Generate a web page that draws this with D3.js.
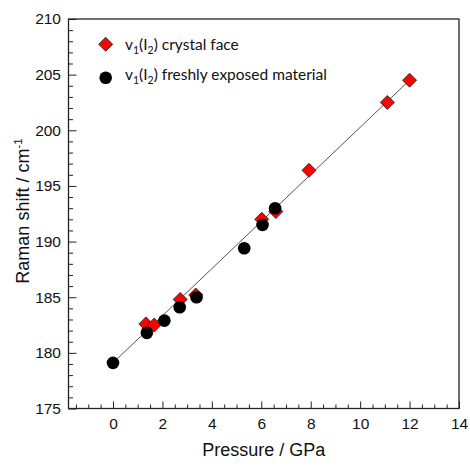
<!DOCTYPE html>
<html>
<head>
<meta charset="utf-8">
<script src="https://cdn.jsdelivr.net/npm/d3@7"></script>
<style>
  body { margin: 0; background: #fff; }
  svg { display: block; }
</style>
</head>
<body>
<svg id="chart"></svg>
<script>
// crystal face (red diamonds)
let faceP = [1.33, 1.67, 2.72, 3.35, 6.02, 6.59, 7.93, 11.1, 12.0]
let faceR = [182.6, 182.5, 184.8, 185.2, 192.0, 192.7, 196.4, 202.5, 204.5]
// freshly exposed material (black circles)
let freshP = [0.0, 1.37, 2.08, 2.7, 3.38, 5.31, 6.05, 6.56]
let freshR = [179.1, 181.8, 182.9, 184.1, 185.0, 189.4, 191.5, 193.0]
// fitted line end points
let lineP = [0, 12]
let lineR = [179.1, 204.5]

let xTicks = [0, 2, 4, 6, 8, 10, 12, 14]
let yTicks = [175, 180, 185, 190, 195, 200, 205, 210]

let width = 470
let height = 467
let plotLeft = 68.5
let plotRight = 459
let plotTop = 19
let plotBottom = 408.5
let arial = "'Liberation Sans', Arial, sans-serif"

let svg = d3.select('#chart').attr('width', width).attr('height', height)

let xScale = d3.scaleLinear().domain([-1.8, 14]).range([plotLeft, plotRight])
let yScale = d3.scaleLinear().domain([175, 210]).range([plotBottom, plotTop])

// minor ticks
let xMinor = d3.range(-1.5, 14.01, 0.5).filter(d => xTicks.indexOf(d) < 0)
let yMinor = d3.range(175, 210.01, 1).filter(d => yTicks.indexOf(d) < 0)

let xAxis = d3.axisBottom(xScale).tickValues(xTicks).tickSize(-7).tickPadding(9.5).tickFormat(d3.format('d'))
let xAxisMinor = d3.axisBottom(xScale).tickValues(xMinor).tickSize(-4).tickFormat('')
let yAxis = d3.axisLeft(yScale).tickValues(yTicks).tickSize(-8).tickPadding(7.5)
let yAxisMinor = d3.axisLeft(yScale).tickValues(yMinor).tickSize(-4.5).tickFormat('')

let styleAxis = (g) => {
    g.attr('font-family', null).attr('font-size', null)
    g.select('.domain').remove()
    g.selectAll('line').attr('stroke', '#222').attr('stroke-width', 1)
    g.selectAll('text').attr('fill', '#111')
        .style('font-family', arial)
        .style('font-size', '15.5px')
}

svg.append('g').attr('transform', 'translate(0,' + plotBottom + ')').call(xAxisMinor).call(styleAxis)
svg.append('g').attr('transform', 'translate(0,' + plotBottom + ')').call(xAxis).call(styleAxis)
svg.append('g').attr('transform', 'translate(' + plotLeft + ',0)').call(yAxisMinor).call(styleAxis)
svg.append('g').attr('transform', 'translate(' + plotLeft + ',0)').call(yAxis).call(styleAxis)

// frame
svg.append('rect')
    .attr('x', plotLeft).attr('y', plotTop)
    .attr('width', plotRight - plotLeft).attr('height', plotBottom - plotTop)
    .attr('fill', 'none').attr('stroke', '#222').attr('stroke-width', 1.3)

// fit line
svg.append('line')
    .attr('x1', xScale(lineP[0])).attr('y1', yScale(lineR[0]))
    .attr('x2', xScale(lineP[1])).attr('y2', yScale(lineR[1]))
    .attr('stroke', '#555').attr('stroke-width', 1)

let diamond = d3.symbol().type(d3.symbolSquare).size(98)

svg.selectAll('.face')
    .data(faceP)
    .enter()
    .append('path')
    .attr('class', 'face')
    .attr('d', diamond)
    .attr('transform', (d, i) => 'translate(' + xScale(d) + ',' + yScale(faceR[i]) + ') rotate(45)')
    .attr('fill', '#ff0000')
    .attr('stroke', '#222')
    .attr('stroke-width', 0.8)

svg.selectAll('.fresh')
    .data(freshP)
    .enter()
    .append('circle')
    .attr('class', 'fresh')
    .attr('cx', (d) => xScale(d))
    .attr('cy', (d, i) => yScale(freshR[i]))
    .attr('r', 6.3)
    .attr('fill', '#000')

// legend
let legend = svg.append('g').style('font-family', "Lato, 'Open Sans', sans-serif").style('font-size', '15.5px')
legend.append('path')
    .attr('d', diamond)
    .attr('transform', 'translate(105.7,44.3) rotate(45)')
    .attr('fill', '#ff0000').attr('stroke', '#222').attr('stroke-width', 0.8)
legend.append('circle')
    .attr('cx', 105.7).attr('cy', 77.7).attr('r', 6.3).attr('fill', '#000')

let addLabel = (y, rest) => {
    let t = legend.append('text').attr('x', 125).attr('y', y).attr('fill', '#111')
    t.append('tspan').text('v')
    t.append('tspan').attr('dy', 4).style('font-size', '10.5px').text('1')
    t.append('tspan').attr('dy', -4).text('(I')
    t.append('tspan').attr('dy', 4).style('font-size', '10.5px').text('2')
    t.append('tspan').attr('dy', -4).text(rest)
}
addLabel(49.5, ') crystal face')
addLabel(80, ') freshly exposed material')

// axis titles
svg.append('text')
    .attr('x', (plotLeft + plotRight) / 2).attr('y', 455.5)
    .attr('text-anchor', 'middle')
    .style('font-family', arial)
    .style('font-size', '18px')
    .attr('fill', '#111')
    .text('Pressure / GPa')

let yTitle = svg.append('text')
    .attr('transform', 'translate(29,211) rotate(-90)')
    .attr('text-anchor', 'middle')
    .style('font-family', arial)
    .style('font-size', '18px')
    .attr('fill', '#111')
yTitle.append('tspan').text('Raman shift / cm')
yTitle.append('tspan').attr('dy', -7).style('font-size', '11.5px').text('-1')
</script>
</body>
</html>
